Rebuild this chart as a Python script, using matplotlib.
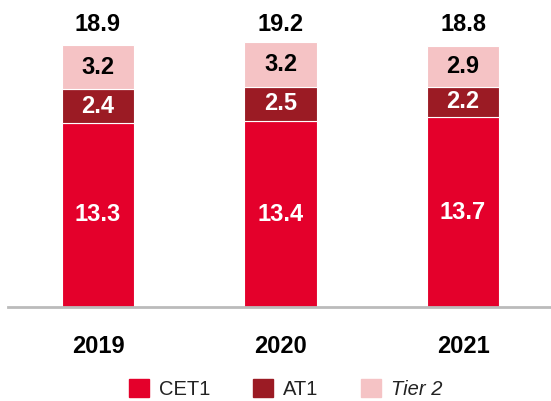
import numpy as np
import matplotlib.pyplot as plt
from matplotlib.patches import Patch

plt.rcParams['font.family'] = ['Liberation Sans', 'DejaVu Sans']

#%% Data
years = ['2019', '2020', '2021']
cet1 = [13.3, 13.4, 13.7]
at1 = [2.4, 2.5, 2.2]
tier2 = [3.2, 3.2, 2.9]
totals = [18.9, 19.2, 18.8]

c_cet1 = '#E4002B'
c_at1 = '#9B1B24'
c_tier2 = '#F5C3C5'

#%% Plot
fig = plt.figure(figsize=(5.51, 4.01), dpi=100)
ax = fig.add_axes([8/551, 1-307/401, 543/551, 307/401])

x = np.arange(len(years))
w = 0.395
b1 = np.array(cet1)
b2 = b1 + np.array(at1)

ax.bar(x, cet1, w, color=c_cet1, edgecolor='white', linewidth=0.8)
ax.bar(x, at1, w, bottom=b1, color=c_at1, edgecolor='white', linewidth=0.8)
ax.bar(x, tier2, w, bottom=b2, color=c_tier2, edgecolor='white', linewidth=0.8)

fs = 17
for i in range(len(years)):
    ax.text(x[i], cet1[i]/2, f'{cet1[i]:.1f}', ha='center', va='center',
            color='white', fontsize=fs, fontweight='bold')
    ax.text(x[i], b1[i] + at1[i]/2, f'{at1[i]:.1f}', ha='center', va='center',
            color='white', fontsize=fs, fontweight='bold')
    ax.text(x[i], b2[i] + tier2[i]/2, f'{tier2[i]:.1f}', ha='center', va='center',
            color='black', fontsize=fs, fontweight='bold')
    ax.text(x[i], 20.4, f'{totals[i]:.1f}', ha='center', va='center',
            color='black', fontsize=fs, fontweight='bold')

ax.set_xlim(-0.493, 2.482)
ax.set_ylim(0, 22.15)
ax.set_yticks([])
ax.set_xticks(x)
ax.set_xticklabels(years, fontsize=fs, fontweight='bold')
ax.tick_params(axis='x', length=0, pad=20)
for s in ['top', 'right', 'left']:
    ax.spines[s].set_visible(False)
ax.spines['bottom'].set_color('#BBBBBB')
ax.spines['bottom'].set_linewidth(2)

handles = [Patch(color=c_cet1), Patch(color=c_at1), Patch(color=c_tier2)]
leg = fig.legend(handles, ['CET1', 'AT1', 'Tier 2'], loc='center',
                 bbox_to_anchor=(0.5 + 10/551, 1-389/401), ncol=3, frameon=False,
                 fontsize=14.5, handlelength=1.0, handleheight=1.0,
                 handletextpad=0.5, columnspacing=2.1)
texts = leg.get_texts()
texts[2].set_style('italic')
for t in texts:
    t.set_color('#222222')

plt.savefig('out.png', dpi=100)
